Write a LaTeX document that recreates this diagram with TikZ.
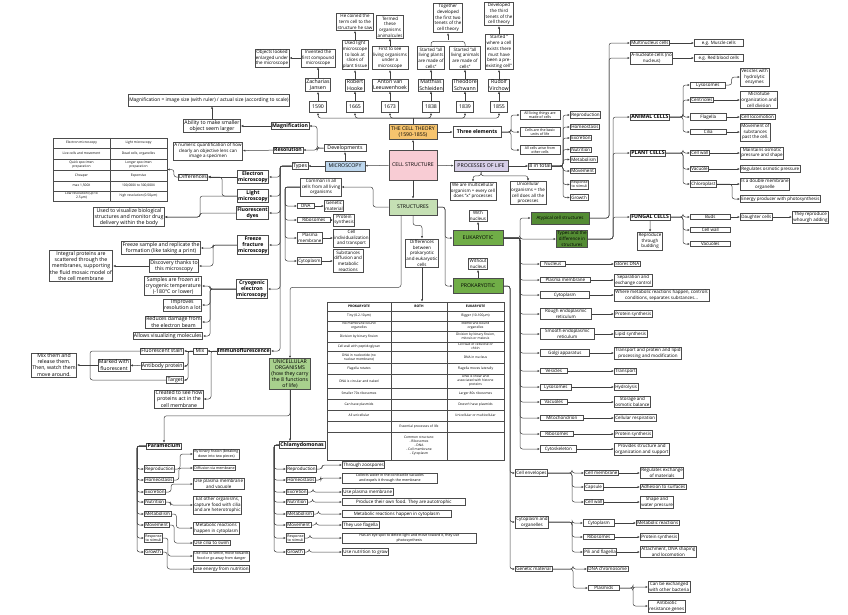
\documentclass[tikz,border=0pt]{standalone}
\usepackage{fontspec}
\setmainfont{Open Sans}
\usepackage{tikz}
\usetikzlibrary{positioning,arrows.meta}
\usepackage{xcolor}
\definecolor{orange2}{RGB}{246,196,110}
\definecolor{pink2}{RGB}{248,204,212}
\definecolor{blue2}{RGB}{189,215,238}
\definecolor{purple2}{RGB}{215,207,232}
\definecolor{green1}{RGB}{197,224,180}
\definecolor{green2}{RGB}{168,208,141}
\definecolor{green3}{RGB}{112,173,71}
\definecolor{green4}{RGB}{84,140,52}
\newcommand{\boxfont}{\fontsize{4.5}{5.7}\selectfont}
\newcommand{\bigboxfont}{\fontsize{5.2}{6.1}\selectfont}
\newcommand{\smallboxfont}{\fontsize{3.6}{4.4}\selectfont}
\newcommand{\tablefont}{\fontsize{3.3}{4}\selectfont}

\begin{document}
\begin{tikzpicture}[x=1pt, y=-1pt,
        cellbox/.style  ={draw=black!70, fill=white, line width=0.65pt, align=center, inner sep=1pt, font=\boxfont},
        bigbox/.style   ={cellbox, font=\bigboxfont},
        headbox/.style  ={cellbox, font=\bigboxfont\bfseries},
        smallbox/.style ={cellbox, font=\smallboxfont},
        tablecell/.style={align=center, inner sep=0.5pt, font=\tablefont},
        arr/.style      ={draw=black!75, line width=0.5pt, rounded corners=2.5pt, -{Latex[length=2.4pt,width=2.2pt]}},
        ln/.style       ={draw=black!75, line width=0.5pt, rounded corners=2.5pt},
    ]
\useasboundingbox (0,0) rectangle (848,614);

% Nodes

% cell theory timeline
\node[cellbox] (coined) at (355,22) {He coined the\\term cell to the\\structure he saw};
\node[cellbox] (termed) at (390,27) {Termed\\these\\organisms\\animalcules};
\node[cellbox] (together) at (448,18) {Together\\developed\\the first two\\tenets of the\\cell theory};
\node[cellbox] (third) at (499,14) {Developed\\the third\\tenets of the\\cell theory};
\node[cellbox] (objects) at (272,58) {Objects looked\\enlarged under\\the microscope};
\node[cellbox] (invented) at (318,58) {Invented the\\first compound\\microscope};
\node[cellbox] (usedlight) at (355,55) {Used light\\microscope\\to look at\\slices of\\plant tissue};
\node[cellbox] (firstsee) at (390,58) {First to see\\living organisms\\under a\\microscope};
\node[cellbox] (plants) at (431,58) {Started "all\\living plants\\are made of\\cells"};
\node[cellbox] (animals) at (465,58) {Started "all\\living animals\\are made of\\cells"};
\node[cellbox] (preexist) at (499,52) {Started "\\where a cell\\exists there\\must have\\been a pre-\\existing cell"};

\node[bigbox] (jansen) at (318,85) {Zacharias\\Jansen};
\node[bigbox] (hooke) at (355,85) {Robert\\Hooke};
\node[bigbox] (leeuw) at (390,85) {Anton van\\Leeuwenhoek};
\node[bigbox] (schleiden) at (431,85) {Matthias\\Schleiden};
\node[bigbox] (schwann) at (465,85) {Theodore\\Schwann};
\node[bigbox] (virchow) at (499,85) {Rudolf\\Virchow};

\node[bigbox, minimum width=17, minimum height=11] (y1590) at (318,107) {1590};
\node[bigbox, minimum width=17, minimum height=11] (y1665) at (355,107) {1665};
\node[bigbox, minimum width=17, minimum height=11] (y1673) at (390,107) {1673};
\node[bigbox, minimum width=17, minimum height=11] (y1838) at (431,107) {1838};
\node[bigbox, minimum width=17, minimum height=11] (y1839) at (465,107) {1839};
\node[bigbox, minimum width=17, minimum height=11] (y1855) at (499,107) {1855};

\node[bigbox, fill=orange2, minimum width=48, minimum height=15] (theory) at (413,132) {THE CELL THEORY\\(1590-1855)};
\node[headbox, minimum width=48, minimum height=11] (three) at (477,132) {Three elements};
\node[smallbox, minimum width=40] (el1) at (540,115) {All living things are\\made of cells};
\node[smallbox, minimum width=40] (el2) at (540,132) {Cells are the basic\\units of life};
\node[smallbox, minimum width=40] (el3) at (540,150) {All cells arise from\\other cells};

% microscopy
\node[bigbox, fill=pink2, minimum width=48, minimum height=30] (cellstr) at (413,165) {CELL STRUCTURE};
\node[bigbox, fill=blue2, minimum width=40, minimum height=10] (micro) at (345,166) {MICROSCOPY};
\node[bigbox] (types) at (300,166) {Types};
\node[bigbox, minimum width=42] (devel) at (345,148) {Developments};
\node[headbox] (mag) at (290,126) {Magnification};
\node[headbox] (res) at (288,150) {Resolution};
\node[bigbox] (ability) at (212,126) {Ability to make smaller\\object seem larger};
\node[cellbox, font=\fontsize{4.9}{6}\selectfont, minimum height=12] (formula) at (209,100) {Magnification = image size (with ruler) / actual size (according to scale)};
\node[cellbox] (numeric) at (208,151) {A numeric quantification of how\\clearly an objective lens can\\image a specimen};

\node[draw=black!70, line width=0.5pt, minimum width=114, minimum height=63, inner sep=0] (emtab) at (110,169.5) {};
\node[tablecell] (e1) at (81.5,143) {Electron microscopy};
\node[tablecell] (l1) at (138.5,143) {Light microscopy};
\node[tablecell] (e2) at (81.5,153.5) {Live cells and movement};
\node[tablecell] (l2) at (138.5,153.5) {Dead cells, organelles};
\node[tablecell] (e3) at (81.5,164.5) {Quick specimen\\preparation};
\node[tablecell] (l3) at (138.5,164.5) {Longer specimen\\preparation};
\node[tablecell] (e4) at (81.5,175.5) {Cheaper};
\node[tablecell] (l4) at (138.5,175.5) {Expensive};
\node[tablecell] (e5) at (81.5,186) {max 1,500X};
\node[tablecell] (l5) at (138.5,186) {100,000X to 300,000X};
\node[tablecell] (e6) at (81.5,196) {Low resolution (up to\\2.5µm)};
\node[tablecell] (l6) at (138.5,196) {high resolution (0.50µm)};

\node[headbox, anchor=east] (em) at (269,177) {Electron\\microscopy};
\node[headbox, anchor=east] (lm) at (269,196) {Light\\microscopy};
\node[headbox, anchor=east] (fd) at (269,213) {Fluorescent\\dyes};
\node[headbox, anchor=east] (ff) at (269,245) {Freeze\\fracture\\microscopy};
\node[headbox, anchor=east] (cr) at (268,289) {Cryogenic\\electron\\microscopy};
\node[headbox, anchor=east] (im) at (271,351) {Immunoflurescence};

\node[bigbox] (diff) at (193,177) {Differences};
\node[bigbox] (usedvis) at (129,217) {Used to visualize biological\\structures and monitor drug\\delivery within the body};
\node[bigbox] (freezes) at (161,248) {Freeze sample and replicate the\\formation (like taking a print)};
\node[bigbox] (discov) at (174,266) {Discovery thanks to\\this microscopy};
\node[bigbox] (integral) at (81,266) {Integral proteins are\\scattered through the\\membranes, supporting\\the fluid mosaic model of\\the cell membrane};
\node[bigbox, anchor=east] (samples) at (202,286) {Samples are frozen at\\cryogenic temperature\\(-180°C or lower)};
\node[bigbox, anchor=east] (improves) at (202,305) {Improves\\resolution a lot};
\node[bigbox, anchor=east] (reduces) at (202,322) {Reduces damage from\\the electron beam};
\node[bigbox, anchor=east] (allows) at (203,336) {Allows visualizing molecules};
\node[bigbox, minimum width=14] (mix) at (200,351) {Mix};
\node[bigbox, anchor=east] (fstain) at (184,351) {Fluorescent stain};
\node[bigbox, anchor=east] (antibody) at (184,366) {Antibody protein};
\node[bigbox, anchor=east] (target) at (184,380) {Target};
\node[bigbox] (marked) at (114,365) {Marked with\\fluorescent};
\node[bigbox] (mixthem) at (54,365) {Mix them and\\release them.\\Then, watch them\\move around.};
\node[bigbox] (created) at (179,399) {Created to see how\\proteins act in the\\cell membrane};

% structures
\node[bigbox, fill=green1, minimum width=48, minimum height=16] (struct) at (413,207) {STRUCTURES};
\node[cellbox] (common) at (321,187) {Common in all\\cells from all living\\organisms};
\node[cellbox, anchor=west, minimum width=17] (dna) at (297,206) {DNA};
\node[cellbox, anchor=west] (genetic) at (324,206) {Genetic\\material};
\node[cellbox, anchor=west, minimum width=33] (ribo) at (297,220) {Ribosomes};
\node[cellbox, anchor=west] (protsyn) at (333,220) {Protein\\synthesis};
\node[cellbox, anchor=west] (plasma) at (297,238) {Plasma\\membrane};
\node[cellbox, anchor=west] (indiv) at (333,238) {Cell\\individualization\\and transport};
\node[cellbox, anchor=west] (cyto) at (297,261) {Cytoplasm};
\node[cellbox, anchor=west] (subst) at (333,261) {Substances\\diffusion and\\metabolic\\reactions};
\node[cellbox] (diffpe) at (422,253) {Differences\\between\\prokaryotic\\and eukaryotic\\cells};
\node[bigbox, fill=green3, minimum width=50, minimum height=15] (euk) at (478,238) {EUKARYOTIC};
\node[cellbox] (withn) at (478,216) {With\\nucleus};
\node[bigbox, fill=green3, minimum width=50, minimum height=15] (prok) at (478,286) {PROKARYOTIC};
\node[cellbox] (withoutn) at (478,264) {Without\\nucleus};

\node[draw=black!70, line width=0.5pt, minimum width=177, minimum height=158, inner sep=0] (ptab) at (415.5,381) {};
\node[tablecell, font=\tablefont\bfseries] (ph) at (359,306.5) {PROKARYOTE};
\node[tablecell, font=\tablefont\bfseries] (bh) at (419,306.5) {BOTH};
\node[tablecell, font=\tablefont\bfseries] (eh) at (475.5,306.5) {EUKARYOTE};
\node[tablecell] (pk1) at (359,316) {Tiny (0.2-10µm)};
\node[tablecell] (ek1) at (475.5,316) {Bigger (10-100µm)};
\node[tablecell] (pk2) at (359,326) {No membrane bound\\organelles};
\node[tablecell] (ek2) at (475.5,326) {Membrane bound\\organelles};
\node[tablecell] (pk3) at (359,336.5) {Division by binary fission};
\node[tablecell] (ek3) at (475.5,336.5) {Division by binary fission,\\mitosis or meiosis};
\node[tablecell] (pk4) at (359,346.5) {Cell wall with peptidoglycan};
\node[tablecell] (ek4) at (475.5,346.5) {Cell wall of cellulose or\\chitin};
\node[tablecell] (pk5) at (359,357) {DNA in nucleotide (no\\nuclear membrane)};
\node[tablecell] (ek5) at (475.5,357) {DNA in nucleus};
\node[tablecell] (pk6) at (359,368.5) {Flagella rotates};
\node[tablecell] (ek6) at (475.5,368.5) {Flagella moves laterally};
\node[tablecell] (pk7) at (359,381) {DNA is circular and naked};
\node[tablecell] (ek7) at (475.5,381) {DNA is linear and\\associated with histone\\proteins};
\node[tablecell] (pk8) at (359,393.5) {Smaller 70s ribosomes};
\node[tablecell] (ek8) at (475.5,393.5) {Larger 80s ribosomes};
\node[tablecell] (pk9) at (359,404.5) {Can have plasmids};
\node[tablecell] (ek9) at (475.5,404.5) {Doesn't have plasmids};
\node[tablecell] (pk10) at (359,415.5) {All unicellular};
\node[tablecell] (ek10) at (475.5,415.5) {Unicellular or multicellular};
\node[tablecell] (bo11) at (419,426.5) {Essential processes of life};
\node[tablecell] (bo12) at (419,446) {Common structure:\\- Ribosomes\\- DNA\\- Cell membrane\\- Cytoplasm};

% processes of life
\node[bigbox, fill=purple2, minimum width=54, minimum height=11] (proc) at (481,166) {PROCESSES OF LIFE};
\node[bigbox] (eight) at (540,166) {8 in total};
\node[cellbox] (multi) at (473,191) {We are multicellular\\organism = every cell\\does "x" processes};
\node[cellbox] (uni) at (528,193) {Unicellular\\organisms = the\\cell does all the\\processes};
\node[cellbox, anchor=west] (p1) at (570,115) {Reproduction};
\node[cellbox, anchor=west] (p2) at (570,127) {Homeostasis};
\node[cellbox, anchor=west] (p3) at (570,138) {Excretion};
\node[cellbox, anchor=west] (p4) at (570,149.5) {Nutrition};
\node[cellbox, anchor=west] (p5) at (570,159.5) {Metabolism};
\node[cellbox, anchor=west] (p6) at (570,171) {Movement};
\node[smallbox, anchor=west] (p7) at (570,184.5) {Response\\to stimuli};
\node[cellbox, anchor=west] (p8) at (570,197.5) {Growth};

% eukaryotic cells
\node[cellbox, fill=green4, minimum width=58, minimum height=12] (atyp) at (560,218) {Atypical cell structures};
\node[cellbox, fill=green4] (types2) at (572,239) {Types and the\\difference in\\structures};
\node[cellbox, anchor=west, minimum width=25] (nucleus) at (540,264) {Nucleus};
\node[cellbox, anchor=west, minimum width=50] (plasmam) at (540,280) {Plasma membrane};
\node[cellbox, anchor=west, minimum width=49] (cytopl) at (540,295) {Cytoplasm};
\node[cellbox, anchor=west, minimum width=51] (rough) at (540,314) {Rough endoplasmic\\reticulum};
\node[cellbox, anchor=west, minimum width=54] (smooth) at (540,334) {Smooth endoplasmic\\reticulum};
\node[cellbox, anchor=west, minimum width=49] (golgi) at (540,353) {Golgi apparatus};
\node[cellbox, anchor=west, minimum width=27] (vesic) at (540,371) {Vesicles};
\node[cellbox, anchor=west, minimum width=31] (lyso) at (540,387) {Lysosomes};
\node[cellbox, anchor=west, minimum width=27] (vacu) at (540,402) {Vacuoles};
\node[cellbox, anchor=west, minimum width=43] (mito) at (540,418) {Mitochondrion};
\node[cellbox, anchor=west, minimum width=33] (ribos) at (540,434) {Ribosomes};
\node[cellbox, anchor=west, minimum width=36] (cytosk) at (540,449) {Cytoskeleton};
\node[cellbox, anchor=west] (sdna) at (614,264) {Stores DNA};
\node[cellbox, anchor=west] (sepex) at (614,280) {Separation and\\exchange control};
\node[cellbox, anchor=west] (wheremet) at (614,295) {Where metabolic reactions happen, controls\\conditions, separates substances...};
\node[cellbox, anchor=west] (psyn1) at (614,314) {Protein synthesis};
\node[cellbox, anchor=west] (lipid) at (614,334) {Lipid synthesis};
\node[cellbox, anchor=west] (transp1) at (614,353) {Transport and protein and lipid\\processing and modification};
\node[cellbox, anchor=west] (transp2) at (614,371) {Transport};
\node[cellbox, anchor=west] (hydro) at (614,387) {Hydrolysis};
\node[cellbox, anchor=west] (storage) at (614,402) {Storage and\\osmotic balance};
\node[cellbox, anchor=west] (cellresp) at (614,418) {Cellular respiration};
\node[cellbox, anchor=west] (psyn2) at (614,434) {Protein synthesis};
\node[cellbox, anchor=west] (provides) at (614,449) {Provides structure and\\organization and support};

\node[cellbox, anchor=west] (multin) at (630,43) {Multinucleus cells};
\node[cellbox, anchor=west, minimum width=49] (musc) at (694,43) {e.g. Muscle cells};
\node[cellbox, anchor=west] (anuc) at (630,58) {A-nucleate cells (no\\nucleus)};
\node[cellbox, anchor=west, minimum width=49] (rbc) at (694,58) {e.g. Red blood cells};
\node[headbox, anchor=west] (animal) at (630,117) {ANIMAL CELLS};
\node[cellbox, anchor=west, minimum width=35] (lys) at (690,85) {Lysosomes};
\node[cellbox, anchor=west] (vesh) at (740,77) {Vesicles with\\hydrolytic\\enzymes};
\node[cellbox, anchor=west] (centr) at (690,100) {Centrioles};
\node[cellbox, anchor=west] (micro2) at (740,100) {Microtube\\organization and\\cell division};
\node[cellbox, anchor=west, minimum width=36] (flag) at (690,117) {Flagella};
\node[cellbox, anchor=west] (celllo) at (740,117) {Cell locomotion};
\node[cellbox, anchor=west, minimum width=36] (cilia) at (690,132) {Cilia};
\node[cellbox, anchor=west] (movsub) at (740,132) {Movement of\\substances\\past the cell.};
\node[headbox, anchor=west] (plant) at (630,153) {PLANT CELLS};
\node[cellbox, anchor=west] (pwall) at (690,153) {Cell wall};
\node[cellbox, anchor=west] (maint) at (740,153) {Maintains osmotic\\pressure and shape};
\node[cellbox, anchor=west] (pvac) at (690,169) {Vacuole};
\node[cellbox, anchor=west] (regosm) at (740,169) {Regulates osmotic pressure};
\node[cellbox, anchor=west] (chloro) at (690,184) {Chloroplast};
\node[cellbox, anchor=west] (dbl) at (740,184) {Is a double membrane\\organelle};
\node[cellbox, anchor=west] (energy) at (740,199) {Energy producer with photosynthesis};
\node[headbox, anchor=west] (fungal) at (630,217) {FUNGAL CELLS};
\node[cellbox] (budding) at (650,241) {Reproduce\\through\\budding};
\node[cellbox, anchor=west, minimum width=40] (buds) at (690,217) {Buds};
\node[cellbox, anchor=west] (daughter) at (740,217) {Daughter cells};
\node[cellbox, anchor=west] (theyrep) at (792,217) {They reproduce\\whourgh adding};
\node[cellbox, anchor=west, minimum width=40] (fwall) at (690,230) {Cell wall};
\node[cellbox, anchor=west, minimum width=40] (fvac) at (690,244) {Vacuoles};

% prokaryotic cells
\node[cellbox, anchor=west] (cenv) at (515,473) {Cell envelopes};
\node[cellbox, anchor=west] (cytorg) at (515,522) {Cytoplasm and\\organelles};
\node[cellbox, anchor=west] (genmat) at (515,569) {Genetic material};
\node[cellbox, anchor=west] (cmem) at (584,473) {Cell membrane};
\node[cellbox, anchor=west] (caps) at (584,487) {Capsule};
\node[cellbox, anchor=west] (cwall) at (584,502) {Cell wall};
\node[cellbox, anchor=west] (regex) at (640,473) {Regulates exchange\\of materials};
\node[cellbox, anchor=west] (adh) at (640,487) {Adhesion to surfaces};
\node[cellbox, anchor=west] (shape) at (640,502) {Shape and\\water pressure};
\node[cellbox, anchor=west, minimum width=31] (pcyto) at (583,523) {Cytoplasm};
\node[cellbox, anchor=west, minimum width=31] (pribo) at (583,537) {Ribosomes};
\node[cellbox, anchor=west] (pili) at (583,552) {Pili and flagella};
\node[cellbox, anchor=west] (metreac) at (636,523) {Metabolic reactions};
\node[cellbox, anchor=west] (psyn3) at (640,537) {Protein synthesis};
\node[cellbox, anchor=west] (attach) at (640,552) {Attachment, DNA shaping\\and locomotion};
\node[cellbox, anchor=west] (dnachr) at (587,569) {DNA chromosome};
\node[cellbox, anchor=west, minimum width=31] (plasmids) at (588,588) {Plasmids};
\node[cellbox, anchor=west] (exch) at (648,587) {Can be exchanged\\with other bacteria};
\node[cellbox, anchor=west] (antib) at (648,606) {Antibiotic\\resistance genes};

% unicellular organisms
\node[bigbox, fill=green2, minimum width=41] (unicell) at (290,374) {UNICELLULAR\\ORGANISMS\\(how they carry\\the 8 functions\\of life)};
\node[headbox] (para) at (164,446) {Paramecium};
\node[headbox, anchor=west] (chlamy) at (279,445) {Chlamydomonas};

\node[cellbox, anchor=west] (pr1) at (144,469) {Reproduction};
\node[cellbox, anchor=west] (pr2) at (144,480) {Homeostasis};
\node[cellbox, anchor=west] (pr3) at (144,492) {Excretion};
\node[cellbox, anchor=west] (pr4) at (144,502) {Nutrition};
\node[cellbox, anchor=west] (pr5) at (144,514) {Metabolism};
\node[cellbox, anchor=west] (pr6) at (144,525) {Movement};
\node[smallbox, anchor=west] (pr7) at (144,538) {Response\\to stimuli};
\node[cellbox, anchor=west] (pr8) at (144,552) {Growth};
\node[smallbox, anchor=west] (pd1) at (193,454) {By binary fission (breaking\\down into two pieces)};
\node[smallbox, anchor=west] (pd2) at (193,468) {Diffusion via membrane};
\node[cellbox, anchor=west] (pd3) at (193,484) {Use plasma membrane\\and vacuole};
\node[cellbox, anchor=west] (pd4) at (193,505) {Eat other organisms,\\capture food with cilia\\and are heterotrophic};
\node[cellbox, anchor=west] (pd5) at (193,528) {Metabolic reactions\\happen in cytoplasm};
\node[cellbox, anchor=west] (pd6) at (193,543) {Use cilia to swim};
\node[smallbox, anchor=west] (pd7) at (193,556) {Use cilia to sence, move towards\\food or go away from danger};
\node[cellbox, anchor=west] (pd8) at (193,569) {Use energy from nutrition};

\node[cellbox, anchor=west] (cp1) at (286,469) {Reproduction};
\node[cellbox, anchor=west] (cp2) at (286,480) {Homeostasis};
\node[cellbox, anchor=west] (cp3) at (286,492) {Excretion};
\node[cellbox, anchor=west] (cp4) at (286,502) {Nutrition};
\node[cellbox, anchor=west] (cp5) at (286,514) {Metabolism};
\node[cellbox, anchor=west] (cp6) at (286,525) {Movement};
\node[smallbox, anchor=west] (cp7) at (286,538) {Response\\to stimuli};
\node[cellbox, anchor=west] (cp8) at (286,552) {Growth};
\node[cellbox, anchor=west] (cd1) at (342,465) {Through zoospores};
\node[smallbox, anchor=west, minimum width=95] (cd2) at (342,478) {Collects water in the contractile vacuoles\\and expels it through the membrane};
\node[cellbox, anchor=west] (cd3) at (342,492) {Use plasma membrane};
\node[cellbox, anchor=west, minimum width=123] (cd4) at (342,502) {Produce their own food. They are autotrophic};
\node[cellbox, anchor=west, minimum width=109] (cd5) at (342,514) {Metabolic reactions happen in cytoplasm};
\node[cellbox, anchor=west] (cd6) at (342,525) {They use flagella};
\node[smallbox, anchor=west, minimum width=134] (cd7) at (342,538) {Has an eye spot to detect light and move toward it, they use\\photosynthesis};
\node[cellbox, anchor=west] (cd8) at (342,552) {Use nutrition to grow};

% spines of the brackets
\coordinate (tbar) at (413,118);
\coordinate (tj) at (448,40);
\coordinate (tsp3) at (511,0);
\coordinate (dsp) at (317,0);
\coordinate (tsp) at (280,0);
\coordinate (sdiff) at (222,0);
\coordinate (svis) at (200,0);
\coordinate (sff) at (213,0);
\coordinate (scr) at (210,0);
\coordinate (sim) at (211,0);
\coordinate (smix) at (188,0);
\coordinate (sgrp) at (90,0);
\coordinate (sst) at (373,0);
\coordinate (scom) at (285,0);
\coordinate (seuk) at (445,0);
\coordinate (sorg) at (520,0);
\coordinate (sprok) at (510,0);
\coordinate (senv) at (572,0);
\coordinate (sgen) at (573,0);
\coordinate (spla) at (633,0);
\coordinate (seight) at (563,0);
\coordinate (satyp) at (609,0);
\coordinate (stypes) at (613,0);
\coordinate (sanim) at (683,0);
\coordinate (schl) at (732,0);
\coordinate (spara) at (137,0);
\coordinate (schla) at (274,0);

% table grids
\draw[black!70, line width=0.4pt] (emtab.north) -- (emtab.south);
\foreach \yy in {148,159,170,181,191}
    \draw[black!70, line width=0.4pt] (53,\yy) -- (167,\yy);
\draw[black!70, line width=0.4pt] (391,302) -- (391,460);
\draw[black!70, line width=0.4pt] (447,302) -- (447,460);
\foreach \yy in {311,321,331,342,351,363,374,388,399,410,421,432}
    \draw[black!70, line width=0.4pt] (327,\yy) -- (504,\yy);

% Arrows
\draw[ln] (theory.north) -- (tbar);
\draw[arr] (tbar) -| (y1590.south);
\draw[arr] (tbar) -| (y1665.south);
\draw[arr] (tbar) -| (y1673.south);
\draw[arr] (tbar) -| (y1838.south);
\draw[arr] (tbar) -| (y1839.south);
\draw[arr] (tbar) -| (y1855.south);
\draw[arr] (y1590) -- (jansen);
\draw[arr] (y1665) -- (hooke);
\draw[arr] (y1673) -- (leeuw);
\draw[arr] (y1838) -- (schleiden);
\draw[arr] (y1839) -- (schwann);
\draw[arr] (y1855) -- (virchow);
\draw[arr] (jansen) -- (invented);
\draw[arr] (invented) -- (objects);
\draw[arr] (hooke) -- (usedlight);
\draw[arr] (usedlight) -- (coined);
\draw[arr] (leeuw) -- (firstsee);
\draw[arr] (firstsee) -- (termed);
\draw[arr] (schleiden) -- (plants);
\draw[arr] (schwann) -- (animals);
\draw[ln] (plants.north) -- ++(0,-5) -| (animals.north);
\draw[arr] (tj) -- (together);
\draw[arr] (virchow) -- (preexist);
\draw[arr] (preexist) -- (third);

\draw[arr] (cellstr) -- (theory);
\draw[arr] (theory) -- (three);
\draw[arr] (three.east) -- (three.east -| tsp3) |- (el1.west);
\draw[arr] (three.east) -- (three.east -| tsp3) |- (el2.west);
\draw[arr] (three.east) -- (three.east -| tsp3) |- (el3.west);

\draw[arr] (cellstr) -- (micro);
\draw[arr] (micro) -- (types);
\draw[arr] (micro) -- (devel);
\draw[arr] (devel.west) -- (devel.west -| dsp) |- (mag.east);
\draw[arr] (devel.west) -- (devel.west -| dsp) |- (res.east);
\draw[arr] (mag) -- (ability);
\draw[arr] (ability.north) -- (ability.north |- formula.south);
\draw[arr] (res) -- (numeric);

\draw[arr] (types.west) -- (types.west -| tsp) |- (em.east);
\draw[arr] (types.west) -- (types.west -| tsp) |- (lm.east);
\draw[arr] (types.west) -- (types.west -| tsp) |- (fd.east);
\draw[arr] (types.west) -- (types.west -| tsp) |- (ff.east);
\draw[arr] (types.west) -- (types.west -| tsp) |- (cr.east);
\draw[arr] (types.west) -- (types.west -| tsp) |- (im.east);

\draw[arr] (em) -- (diff);
\draw[arr] (lm.west) -- (lm.west -| sdiff) |- (diff.east);
\draw[arr] (diff.west) -- ++(-4,0) |- (emtab.east);
\draw[arr] (lm.west) -- (lm.west -| svis) |- (usedvis.east);
\draw[arr] (fd.west) -- (fd.west -| svis) |- (usedvis.east);
\draw[arr] (ff.west) -- (ff.west -| sff) |- (freezes.east);
\draw[arr] (ff.west) -- (ff.west -| sff) |- (discov.east);
\draw[arr] (discov) -- (integral);
\draw[arr] (cr.west) -- (cr.west -| scr) |- (samples.east);
\draw[arr] (cr.west) -- (cr.west -| scr) |- (improves.east);
\draw[arr] (cr.west) -- (cr.west -| scr) |- (reduces.east);
\draw[arr] (cr.west) -- (cr.west -| scr) |- (allows.east);
\draw[arr] (im) -- (mix);
\draw[arr] (im.west) -- (im.west -| sim) |- (created.east);
\draw[arr] (mix) -- (fstain);
\draw[arr] (mix.west) -- (mix.west -| smix) |- (antibody.east);
\draw[arr] (mix.west) -- (mix.west -| smix) |- (target.east);
\draw[arr] (antibody) -- (marked);
\draw[ln] (fstain.west) -- (fstain.west -| sgrp) |- (target.west);
\draw[arr] (marked) -- (mixthem);

\draw[arr] (cellstr) -- (struct);
\draw[arr] (struct.west) -- (struct.west -| sst) |- (common.east);
\draw[arr] (common.west) -- (common.west -| scom) |- (dna.west);
\draw[arr] (common.west) -- (common.west -| scom) |- (ribo.west);
\draw[arr] (common.west) -- (common.west -| scom) |- (plasma.west);
\draw[arr] (common.west) -- (common.west -| scom) |- (cyto.west);
\draw[arr] (dna) -- (genetic);
\draw[arr] (ribo) -- (protsyn);
\draw[arr] (plasma) -- (indiv);
\draw[arr] (cyto) -- (subst);
\draw[arr] (struct.south) -- ++(0,10) -| (diffpe.north);
\draw[arr] (diffpe.south) -- (diffpe.south |- ptab.north);
\draw[arr] ([xshift=-12pt]struct.south) -- ++(0,72) -| (unicell.north);
\draw[arr] (struct.east) -- (struct.east -| seuk) |- (euk.west);
\draw[arr] (struct.east) -- (struct.east -| seuk) |- (prok.west);
\draw[arr] (euk) -- (withn);
\draw[arr] (prok) -- (withoutn);

\draw[arr] (proc) -- (eight);
\draw[arr] (cellstr) -- (proc);
\draw[arr] (proc.south) -- ++(0,4) -| (multi.north);
\draw[arr] (proc.south) -- ++(0,4) -| (uni.north);
\draw[arr] (eight.east) -- (eight.east -| seight) |- (p1.west);
\draw[arr] (eight.east) -- (eight.east -| seight) |- (p2.west);
\draw[arr] (eight.east) -- (eight.east -| seight) |- (p3.west);
\draw[arr] (eight.east) -- (eight.east -| seight) |- (p4.west);
\draw[arr] (eight.east) -- (eight.east -| seight) |- (p5.west);
\draw[arr] (eight.east) -- (eight.east -| seight) |- (p6.west);
\draw[arr] (eight.east) -- (eight.east -| seight) |- (p7.west);
\draw[arr] (eight.east) -- (eight.east -| seight) |- (p8.west);

\draw[arr] (euk.east) -- (euk.east -| sorg) |- (atyp.west);
\draw[arr] (euk.east) -- (euk.east -| sorg) |- (types2.west);
\draw[arr] (euk.east) -- (euk.east -| sorg) |- (nucleus.west);
\draw[arr] (euk.east) -- (euk.east -| sorg) |- (plasmam.west);
\draw[arr] (euk.east) -- (euk.east -| sorg) |- (cytopl.west);
\draw[arr] (euk.east) -- (euk.east -| sorg) |- (rough.west);
\draw[arr] (euk.east) -- (euk.east -| sorg) |- (smooth.west);
\draw[arr] (euk.east) -- (euk.east -| sorg) |- (golgi.west);
\draw[arr] (euk.east) -- (euk.east -| sorg) |- (vesic.west);
\draw[arr] (euk.east) -- (euk.east -| sorg) |- (lyso.west);
\draw[arr] (euk.east) -- (euk.east -| sorg) |- (vacu.west);
\draw[arr] (euk.east) -- (euk.east -| sorg) |- (mito.west);
\draw[arr] (euk.east) -- (euk.east -| sorg) |- (ribos.west);
\draw[arr] (euk.east) -- (euk.east -| sorg) |- (cytosk.west);
\draw[arr] (nucleus) -- (sdna);
\draw[arr] (plasmam) -- (sepex);
\draw[arr] (cytopl) -- (wheremet);
\draw[arr] (rough) -- (psyn1);
\draw[arr] (smooth) -- (lipid);
\draw[arr] (golgi) -- (transp1);
\draw[arr] (vesic) -- (transp2);
\draw[arr] (lyso) -- (hydro);
\draw[arr] (vacu) -- (storage);
\draw[arr] (mito) -- (cellresp);
\draw[arr] (ribos) -- (psyn2);
\draw[arr] (cytosk) -- (provides);

\draw[arr] (atyp.east) -- (atyp.east -| satyp) |- (multin.west);
\draw[arr] (atyp.east) -- (atyp.east -| satyp) |- (anuc.west);
\draw[arr] (multin) -- (musc);
\draw[arr] (anuc) -- (rbc);
\draw[arr] (types2.east) -- (types2.east -| stypes) |- (animal.west);
\draw[arr] (types2.east) -- (types2.east -| stypes) |- (plant.west);
\draw[arr] (types2.east) -- (types2.east -| stypes) |- (fungal.west);
\draw[arr] (animal.east) -- (animal.east -| sanim) |- (lys.west);
\draw[arr] (animal.east) -- (animal.east -| sanim) |- (centr.west);
\draw[arr] (animal.east) -- (animal.east -| sanim) |- (flag.west);
\draw[arr] (animal.east) -- (animal.east -| sanim) |- (cilia.west);
\draw[arr] (lys.east) -- ++(6,0) |- (vesh.west);
\draw[arr] (centr) -- (micro2);
\draw[arr] (flag) -- (celllo);
\draw[arr] (cilia) -- (movsub);
\draw[arr] (plant.east) -- (plant.east -| sanim) |- (pwall.west);
\draw[arr] (plant.east) -- (plant.east -| sanim) |- (pvac.west);
\draw[arr] (plant.east) -- (plant.east -| sanim) |- (chloro.west);
\draw[arr] (pwall) -- (maint);
\draw[arr] (pvac) -- (regosm);
\draw[arr] (chloro) -- (dbl);
\draw[arr] (chloro.east) -- (chloro.east -| schl) |- (energy.west);
\draw[arr] (fungal) -- (budding);
\draw[arr] (fungal.east) -- (fungal.east -| sanim) |- (buds.west);
\draw[arr] (fungal.east) -- (fungal.east -| sanim) |- (fwall.west);
\draw[arr] (fungal.east) -- (fungal.east -| sanim) |- (fvac.west);
\draw[arr] (buds) -- (daughter);
\draw[arr] (daughter) -- (theyrep);

\draw[arr] (prok.east) -- (prok.east -| sprok) |- (cenv.west);
\draw[arr] (prok.east) -- (prok.east -| sprok) |- (cytorg.west);
\draw[arr] (prok.east) -- (prok.east -| sprok) |- (genmat.west);
\draw[arr] (cenv.east) -- (cenv.east -| senv) |- (cmem.west);
\draw[arr] (cenv.east) -- (cenv.east -| senv) |- (caps.west);
\draw[arr] (cenv.east) -- (cenv.east -| senv) |- (cwall.west);
\draw[arr] (cmem) -- (regex);
\draw[arr] (caps) -- (adh);
\draw[arr] (cwall) -- (shape);
\draw[arr] (cytorg.east) -- (cytorg.east -| senv) |- (pcyto.west);
\draw[arr] (cytorg.east) -- (cytorg.east -| senv) |- (pribo.west);
\draw[arr] (cytorg.east) -- (cytorg.east -| senv) |- (pili.west);
\draw[arr] (pcyto) -- (metreac);
\draw[arr] (pribo) -- (psyn3);
\draw[arr] (pili) -- (attach);
\draw[arr] (genmat.east) -- (genmat.east -| sgen) |- (dnachr.west);
\draw[arr] (genmat.east) -- (genmat.east -| sgen) |- (plasmids.west);
\draw[arr] (plasmids.east) -- (plasmids.east -| spla) |- (exch.west);
\draw[arr] (plasmids.east) -- (plasmids.east -| spla) |- (antib.west);

\draw[arr] (unicell.south) -- ++(0,26) -| (para.north);
\draw[arr] (unicell.south) -- (unicell.south |- chlamy.north);
\draw[arr] (para.west) -- (para.west -| spara) |- (pr1.west);
\draw[arr] (para.west) -- (para.west -| spara) |- (pr2.west);
\draw[arr] (para.west) -- (para.west -| spara) |- (pr3.west);
\draw[arr] (para.west) -- (para.west -| spara) |- (pr4.west);
\draw[arr] (para.west) -- (para.west -| spara) |- (pr5.west);
\draw[arr] (para.west) -- (para.west -| spara) |- (pr6.west);
\draw[arr] (para.west) -- (para.west -| spara) |- (pr7.west);
\draw[arr] (para.west) -- (para.west -| spara) |- (pr8.west);
\draw[arr] (pr1.east) -- ++(5,0) |- (pd1.west);
\draw[arr] (pr2.east) -- ++(5,0) |- (pd2.west);
\draw[arr] (pr3.east) -- ++(5,0) |- (pd3.west);
\draw[arr] (pr4.east) -- ++(5,0) |- (pd4.west);
\draw[arr] (pr5.east) -- ++(5,0) |- (pd5.west);
\draw[arr] (pr6.east) -- ++(5,0) |- (pd6.west);
\draw[arr] (pr7.east) -- ++(5,0) |- (pd7.west);
\draw[arr] (pr8.east) -- ++(5,0) |- (pd8.west);
\draw[arr] (chlamy.west) -- (chlamy.west -| schla) |- (cp1.west);
\draw[arr] (chlamy.west) -- (chlamy.west -| schla) |- (cp2.west);
\draw[arr] (chlamy.west) -- (chlamy.west -| schla) |- (cp3.west);
\draw[arr] (chlamy.west) -- (chlamy.west -| schla) |- (cp4.west);
\draw[arr] (chlamy.west) -- (chlamy.west -| schla) |- (cp5.west);
\draw[arr] (chlamy.west) -- (chlamy.west -| schla) |- (cp6.west);
\draw[arr] (chlamy.west) -- (chlamy.west -| schla) |- (cp7.west);
\draw[arr] (chlamy.west) -- (chlamy.west -| schla) |- (cp8.west);
\draw[arr] (cp1.east) -- ++(5,0) |- (cd1.west);
\draw[arr] (cp2.east) -- ++(5,0) |- (cd2.west);
\draw[arr] (cp3.east) -- ++(5,0) |- (cd3.west);
\draw[arr] (cp4.east) -- ++(5,0) |- (cd4.west);
\draw[arr] (cp5.east) -- ++(5,0) |- (cd5.west);
\draw[arr] (cp6.east) -- ++(5,0) |- (cd6.west);
\draw[arr] (cp7.east) -- ++(5,0) |- (cd7.west);
\draw[arr] (cp8.east) -- ++(5,0) |- (cd8.west);

\end{tikzpicture}
\end{document}
